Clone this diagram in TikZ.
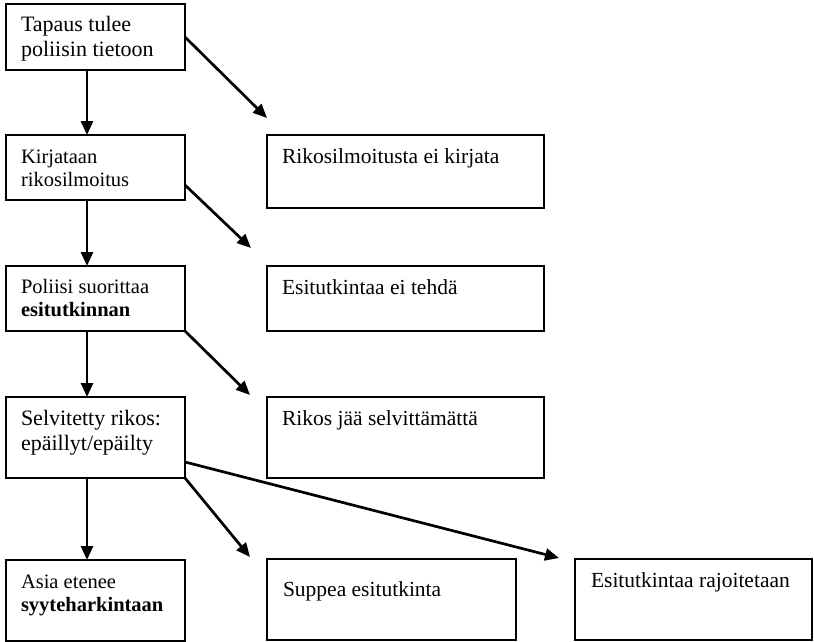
\documentclass[tikz,border=0pt]{standalone}
\usepackage{fontspec}
\setmainfont{Liberation Serif}
\usetikzlibrary{arrows.meta}
\tikzset{
  box/.style={draw, line width=1.5pt, rectangle, anchor=north west, inner sep=0pt, outer sep=0pt},
  txt/.style={anchor=base west, inner sep=0pt, outer sep=0pt},
  arr/.style={-{Triangle[length=14pt,width=12pt]}, line width=2.7pt},
  big/.style={font=\fontsize{22}{25}\selectfont},
  mid/.style={font=\fontsize{20.5}{23.5}\selectfont},
  rt/.style={font=\fontsize{21.5}{25}\selectfont}
}
\begin{document}
\begin{tikzpicture}[x=1pt, y=-1pt]
\useasboundingbox (0,0) rectangle (814,642);
% left column boxes
\node[box, minimum width=179pt, minimum height=66pt] (b1) at (6,4) {};
\node[box, minimum width=179pt, minimum height=65pt] (b2) at (6,135) {};
\node[box, minimum width=179pt, minimum height=65pt] (b3) at (6,266) {};
\node[box, minimum width=179pt, minimum height=81pt] (b4) at (6,397) {};
\node[box, minimum width=179pt, minimum height=81pt] (b5) at (6,560) {};
% right boxes
\node[box, minimum width=277pt, minimum height=73pt] (r1) at (267,135) {};
\node[box, minimum width=277pt, minimum height=65pt] (r2) at (267,266) {};
\node[box, minimum width=277pt, minimum height=81pt] (r3) at (267,397) {};
\node[box, minimum width=249pt, minimum height=81pt] (r4) at (267,559) {};
\node[box, minimum width=237pt, minimum height=81pt] (r5) at (575,559) {};
% texts
\node[txt, big] (t1) at (21,32) {\vtop{\hbox{Tapaus tulee}\hbox{poliisin tietoon}}};
\node[txt, mid] (t2) at (21,163) {\vtop{\hbox{Kirjataan}\hbox{rikosilmoitus}}};
\node[txt, mid] (t3) at (21,293) {\vtop{\hbox{Poliisi suorittaa}\hbox{\bfseries esitutkinnan}}};
\node[txt, big] (t4) at (21,425) {\vtop{\hbox{Selvitetty rikos:}\hbox{epäillyt/epäilty}}};
\node[txt, mid] (t5) at (21,588) {\vtop{\hbox{Asia etenee}\hbox{\bfseries syyteharkintaan}}};
\node[txt, rt] (s1) at (282,163) {Rikosilmoitusta ei kirjata};
\node[txt, rt] (s2) at (282,294) {Esitutkintaa ei tehdä};
\node[txt, rt] (s3) at (282,425) {Rikos jää selvittämättä};
\node[txt, rt] (s4) at (283,596) {Suppea esitutkinta};
\node[txt, rt] (s5) at (591,587) {Esitutkintaa rajoitetaan};
% arrow end points
\coordinate (e1) at (267,118);
\coordinate (e2) at (251,248);
\coordinate (e3) at (250,395);
\coordinate (e4) at (250,557);
\coordinate (e5) at (559,558);
% vertical arrows
\draw[arr] ([xshift=-8.5pt]b1.south) -- ([xshift=-8.5pt]b2.north);
\draw[arr] ([xshift=-8.5pt]b2.south) -- ([xshift=-8.5pt]b3.north);
\draw[arr] ([xshift=-8.5pt]b3.south) -- ([xshift=-8.5pt]b4.north);
\draw[arr] ([xshift=-8.5pt]b4.south) -- ([xshift=-8.5pt]b5.north);
% diagonal arrows
\draw[arr] (b1.east) -- (e1);
\draw[arr] ([yshift=15pt]b2.south east) -- (e2);
\draw[arr] (b3.south east) -- (e3);
\draw[arr] (b4.south east) -- (e4);
\draw[arr] ([yshift=16pt]b4.south east) -- (e5);
\end{tikzpicture}
\end{document}
